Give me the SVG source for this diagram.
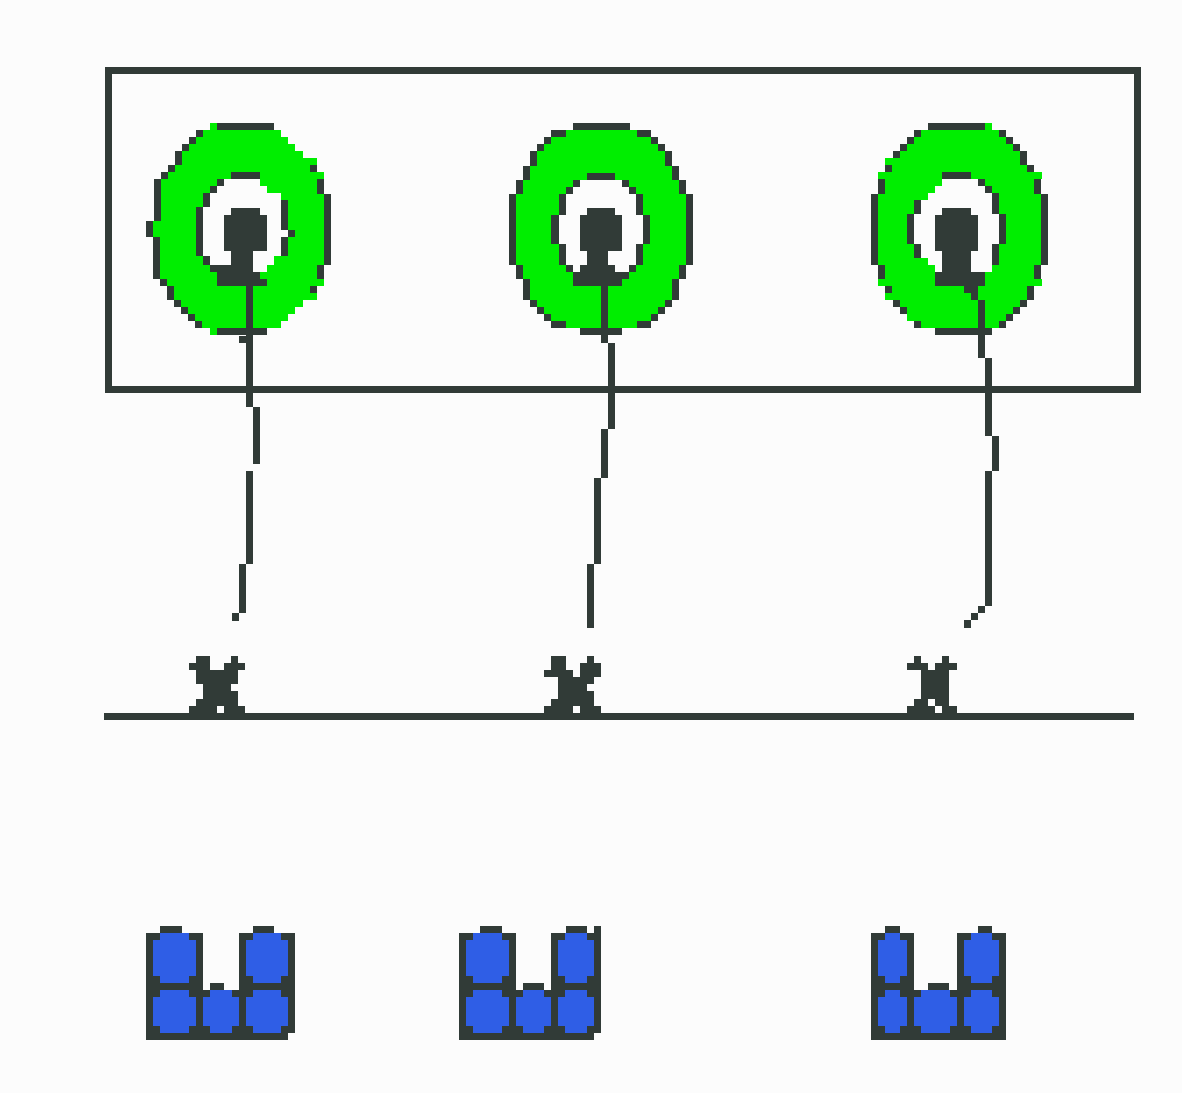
<svg xmlns="http://www.w3.org/2000/svg" width="1182" height="1093" viewBox="0 0 1182 1093" shape-rendering="crispEdges">
  <style>
    .ink { fill: #313b37; }
    .ring { fill: #00ee00; }
    .hole { fill: #fcfcfc; }
    .cell { fill: #2f5ee6; }
    .wire { fill: none; stroke: #313b37; stroke-width: 7; stroke-linecap: butt; }
  </style>

  <rect width="1182" height="1093" fill="#fcfcfc"/>

  <!-- enclosure box -->
  <g id="enclosure">
    <rect x="108.5" y="70" width="1029" height="319.5" fill="none" stroke="#313b37" stroke-width="7"/>
  </g>

  <!-- ground rail -->
  <g id="rail">
    <rect class="ink" x="104" y="713" width="1030" height="7"/>
  </g>

  <!-- balloon 1 -->
  <g id="balloon-1">
    <path class="ink" d="M210,123 H274 V130 H281 V137 H288 V144 H295 V151 H303 V158 H317 V172 H324 V194 H331 V265 H324 V286 H317 V300 H303 V307 H295 V314 H288 V321 H281 V328 H267 V335 H210 V328 H195 V321 H188 V314 H181 V307 H174 V300 H167 V286 H160 V279 H153 V237 H146 V221 H154 V179 H161 V172 H168 V165 H175 V151 H182 V144 H189 V137 H196 V130 H210 Z"/>
    <path class="ring" d="M210,123 H217 V130 H281 V137 H288 V144 H295 V151 H303 V158 H317 V165 H310 V172 H324 V179 H317 V194 H324 V265 H317 V279 H324 V286 H310 V293 H317 V300 H303 V307 H295 V314 H288 V321 H281 V328 H217 V335 H210 V328 H202 V321 H195 V314 H188 V307 H181 V300 H174 V286 H167 V279 H160 V237 H153 V221 H161 V179 H168 V172 H175 V165 H182 V151 H189 V144 H196 V137 H203 V130 H210 Z"/>
    <path class="ink" d="M231,172 H260 V186 H267 V193 H281 V200 H288 V230 H295 V237 H288 V256 H274 V265 H267 V272 H260 V279 H267 V286 H217 V272 H210 V265 H203 V256 H196 V207 H203 V193 H210 V186 H217 V179 H231 Z"/>
    <path class="hole" d="M224,179 H260 V186 H267 V193 H281 V230 H288 V237 H281 V256 H274 V265 H267 V272 H253 V265 H210 V256 H203 V207 H210 V193 H217 V186 H224 Z"/>
    <path class="ink" d="M231,208 H260 V215 H267 V251 H253 V272 H210 V265 H231 V251 H224 V215 H231 Z"/>
  </g>

  <!-- balloon 2 -->
  <g id="balloon-2">
    <path class="ink" d="M573,123 H630 V130 H651 V137 H658 V144 H665 V151 H672 V166 H679 V180 H686 V194 H693 V265 H686 V279 H679 V300 H672 V307 H665 V314 H658 V321 H651 V328 H622 V335 H580 V328 H551 V321 H544 V314 H537 V307 H530 V300 H523 V279 H516 V265 H509 V194 H516 V180 H523 V166 H530 V151 H537 V144 H544 V137 H551 V130 H573 Z"/>
    <path class="ring" d="M566,130 H637 V137 H651 V144 H658 V151 H665 V166 H672 V180 H679 V194 H686 V265 H679 V279 H672 V300 H665 V307 H658 V314 H651 V321 H637 V328 H566 V321 H551 V314 H544 V307 H537 V300 H530 V279 H523 V265 H516 V194 H523 V180 H530 V166 H537 V151 H544 V144 H551 V137 H566 Z"/>
    <path class="ink" d="M587,173 H615 V180 H629 V187 H636 V194 H643 V215 H650 V244 H643 V265 H636 V272 H629 V279 H622 V286 H573 V272 H566 V265 H559 V244 H551 V215 H559 V194 H566 V187 H573 V180 H587 Z"/>
    <path class="hole" d="M580,180 H622 V187 H629 V194 H636 V215 H643 V244 H636 V265 H629 V272 H573 V265 H566 V244 H559 V215 H566 V194 H573 V187 H580 Z"/>
    <path class="ink" d="M587,208 H615 V215 H622 V251 H608 V265 H615 V272 H580 V265 H587 V251 H580 V215 H587 Z"/>
  </g>

  <!-- balloon 3 -->
  <g id="balloon-3">
    <path class="ink" d="M928,123 H992 V130 H1006 V137 H1013 V144 H1020 V151 H1027 V165 H1034 V172 H1042 V179 H1041 V194 H1048 V265 H1041 V279 H1042 V286 H1034 V300 H1027 V307 H1020 V314 H1013 V321 H1006 V328 H992 V335 H935 V328 H914 V321 H907 V314 H900 V307 H893 V300 H885 V286 H878 V265 H871 V194 H878 V172 H885 V158 H893 V151 H900 V144 H907 V137 H914 V130 H928 Z"/>
    <path class="ring" d="M985,123 H992 V130 H999 V137 H1006 V144 H1013 V151 H1020 V165 H1027 V172 H1042 V179 H1034 V194 H1041 V265 H1034 V279 H1042 V286 H1027 V300 H1020 V307 H1013 V314 H1006 V321 H999 V328 H921 V321 H907 V307 H900 V300 H885 V293 H892 V286 H878 V279 H885 V265 H878 V194 H885 V179 H878 V172 H892 V165 H885 V158 H900 V151 H907 V144 H914 V137 H921 V130 H985 Z"/>
    <path class="ink" d="M942,172 H971 V179 H985 V186 H992 V193 H999 V214 H1006 V244 H999 V265 H992 V272 H985 V286 H935 V265 H928 V258 H914 V244 H907 V214 H914 V200 H928 V193 H935 V186 H942 Z"/>
    <path class="hole" d="M942,179 H978 V186 H985 V193 H992 V214 H999 V244 H992 V272 H935 V265 H928 V258 H921 V244 H914 V214 H921 V200 H928 V193 H935 V186 H942 Z"/>
    <path class="ink" d="M942,208 H971 V215 H978 V251 H971 V272 H942 V251 H935 V215 H942 Z"/>
  </g>

  <!-- strings from balloons down to the rail -->
  <g id="strings">
    <path class="wire" d="M249.5,286 V407 M256.5,407 V464 M249.5,471 V564 M242.5,564 V613 M235,613 V621 M242.5,336 V343"/>
    <path class="wire" d="M604.5,286 V343 M611.5,343 V429 M604.5,429 V478 M597.5,478 V564 M590.5,564 V628"/>
    <path class="wire" d="M967.5,286 V293 M974.5,286 V300 M981.5,300 V358 M988.5,358 V436 M995.5,436 V471 M988.5,471 V606 M981.5,606 V613 M974.5,613 V620 M967.5,620 V628"/>
  </g>

  <!-- anchors on the rail -->
  <g id="anchor-1">
    <path class="ink" d="M196,656h14v7h-14z M231,656h7v7h-7z M189,663h21v7h-21z M224,663h21v7h-21z M196,670h42v14h-42z M203,684h28v7h-28z M203,691h35v8h-35z M196,699h42v7h-42z M189,706h28v7h-28z M224,706h21v7h-21z"/>
  </g>
  <g id="anchor-2">
    <path class="ink" d="M551,656h15v14h-15z M587,656h7v7h-7z M580,663h21v14h-21z M544,670h29v7h-29z M558,677h36v7h-36z M558,684h29v7h-29z M558,691h36v8h-36z M551,699h43v7h-43z M544,706h29v7h-29z M580,706h21v7h-21z"/>
  </g>
  <g id="anchor-3">
    <path class="ink" d="M914,656h7v7h-7z M942,656h7v7h-7z M907,663h21v7h-21z M935,663h22v7h-22z M921,670h28v29h-28z M914,699h14v7h-14z M935,699h14v7h-14z M907,706h28v7h-28z M942,706h15v7h-15z"/>
  </g>

  <!-- block stacks -->
  <g id="stack-1">
    <path class="ink" d="M146,933 H160 V926 H182 V933 H203 V990 H210 V983 H224 V990 H239 V933 H253 V926 H274 V933 H295 V1033 H288 V1040 H146 Z"/>
    <path class="cell" d="M160,933 H189 V940 H196 V976 H189 V983 H160 V976 H153 V940 H160 Z"/>
    <path class="cell" d="M253,933 H281 V940 H288 V976 H281 V983 H253 V976 H246 V940 H253 Z"/>
    <path class="cell" d="M160,990 H189 V997 H196 V1026 H189 V1033 H160 V1026 H153 V997 H160 Z"/>
    <path class="cell" d="M210,990 H232 V997 H239 V1026 H232 V1033 H210 V1026 H203 V997 H210 Z"/>
    <path class="cell" d="M253,990 H281 V997 H288 V1026 H281 V1033 H253 V1026 H246 V997 H253 Z"/>
  </g>
  <g id="stack-2">
    <path class="ink" d="M459,933 H480 V926 H502 V933 H516 V990 H523 V983 H544 V990 H551 V933 H566 V926 H587 V933 H594 V926 H601 V1033 H594 V1040 H459 Z"/>
    <path class="cell" d="M473,933 H502 V940 H509 V976 H502 V983 H473 V976 H466 V940 H473 Z"/>
    <path class="cell" d="M565,933 H587 V940 H594 V976 H587 V983 H565 V976 H558 V940 H565 Z"/>
    <path class="cell" d="M473,990 H502 V997 H509 V1026 H502 V1033 H473 V1026 H466 V997 H473 Z"/>
    <path class="cell" d="M523,990 H544 V997 H551 V1026 H544 V1033 H523 V1026 H516 V997 H523 Z"/>
    <path class="cell" d="M565,990 H587 V997 H594 V1026 H587 V1033 H565 V1026 H558 V997 H565 Z"/>
  </g>
  <g id="stack-3">
    <path class="ink" d="M871,933 H885 V926 H900 V933 H914 V990 H928 V983 H949 V990 H957 V933 H978 V926 H992 V933 H1006 V1040 H871 Z"/>
    <path class="cell" d="M885,933 H900 V940 H907 V976 H900 V983 H885 V976 H878 V940 H885 Z"/>
    <path class="cell" d="M971,933 H992 V940 H999 V976 H992 V983 H971 V976 H964 V940 H971 Z"/>
    <path class="cell" d="M885,990 H900 V997 H907 V1026 H900 V1033 H885 V1026 H878 V997 H885 Z"/>
    <path class="cell" d="M921,990 H950 V997 H957 V1026 H950 V1033 H921 V1026 H914 V997 H921 Z"/>
    <path class="cell" d="M971,990 H992 V997 H999 V1026 H992 V1033 H971 V1026 H964 V997 H971 Z"/>
  </g>
</svg>
